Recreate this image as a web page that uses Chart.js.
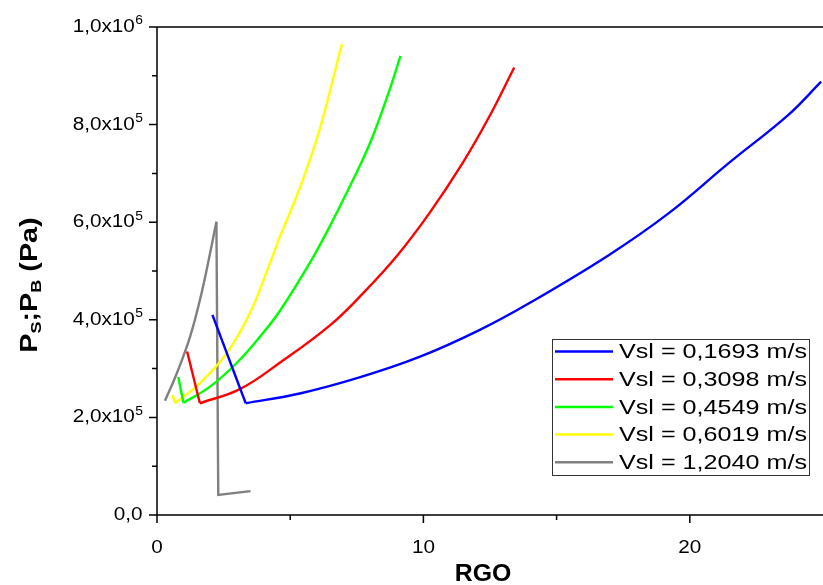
<!DOCTYPE html>
<html lang="pt">
<head>
<meta charset="utf-8">
<title>RGO x Pressão</title>
<script src="https://cdn.jsdelivr.net/npm/chart.js@4.4.1/dist/chart.umd.min.js"></script>
<style>
    body { margin: 0; background: #fff; }
    #rgoChart { display: block; }
</style>
</head>
<body>
<canvas id="rgoChart" width="823" height="585"></canvas>
<script>
// curve labels / colours (legend order)
const seriesLabels = ['Vsl = 0,1693 m/s', 'Vsl = 0,3098 m/s', 'Vsl = 0,4549 m/s', 'Vsl = 0,6019 m/s', 'Vsl = 1,2040 m/s'];
const seriesColors = ['#0000ff', '#ff0000', '#00ff00', '#ffff00', '#808080'];

// RGO values and pressure (Pa), one pair per curve
const rgo1693 = [2.08, 3.33, 5.36, 7.6, 9.85, 12.1, 14.0, 16.97, 19.2, 21.46, 23.7, 24.93];
const p1693 = [4.10e5, 2.29e5, 2.49e5, 2.82e5, 3.24e5, 3.79e5, 4.35e5, 5.33e5, 6.18e5, 7.21e5, 8.20e5, 8.88e5];

const rgo3098 = [1.13, 1.61, 3.11, 4.61, 6.48, 7.73, 8.98, 10.22, 11.47, 12.47, 13.41];
const p3098 = [3.35e5, 2.29e5, 2.58e5, 3.12e5, 3.88e5, 4.54e5, 5.29e5, 6.18e5, 7.21e5, 8.16e5, 9.17e5];

const rgo4549 = [0.80, 0.99, 1.99, 2.98, 3.86, 4.61, 5.73, 6.48, 6.98, 7.6, 8.1, 8.73, 9.14];
const p4549 = [2.83e5, 2.30e5, 2.63e5, 3.11e5, 3.65e5, 4.18e5, 5.16e5, 5.91e5, 6.45e5, 7.14e5, 7.76e5, 8.71e5, 9.41e5];

const rgo6019 = [0.59, 0.67, 1.61, 2.61, 3.48, 4.17, 4.61, 5.36, 6.10, 6.94];
const p6019 = [2.46e5, 2.29e5, 2.70e5, 3.31e5, 4.13e5, 5.06e5, 5.70e5, 6.70e5, 7.89e5, 9.65e5];

const rgo12040 = [0.30, 0.74, 1.24, 1.67, 1.99, 2.23, 2.30, 3.51];
const p12040 = [2.34e5, 2.90e5, 3.65e5, 4.54e5, 5.36e5, 6.01e5, 0.41e5, 0.49e5];

// index where each curve turns sharply (min for the first four, peak for the grey one)
const cornerIdx = [1, 1, 1, 1, 5];

// axis ticks
const xTicks = [0, 10, 20];
const xMinorTicks = [5, 15];
const xTickLabels = ['0', '10', '20'];
const yTicks = [0, 2e5, 4e5, 6e5, 8e5, 1e6];
const yMinorTicks = [1e5, 3e5, 5e5, 7e5, 9e5];
const yTickLabels = ['0,0', '2,0x10', '4,0x10', '6,0x10', '8,0x10', '1,0x10'];
const yTickExps = ['', '5', '5', '5', '5', '6'];

const FONT = '"Liberation Sans", Arial, sans-serif';

const xs = [rgo1693, rgo3098, rgo4549, rgo6019, rgo12040];
const ps = [p1693, p3098, p4549, p6019, p12040];

// each curve = a straight piece + a smooth piece, joined at the corner
const datasets = [];
seriesLabels.forEach((label, i) => {
    const pts = xs[i].map((v, k) => ({ x: v, y: ps[i][k] }));
    const c = cornerIdx[i];
    const grey = i === 4;
    const smooth = grey ? pts.slice(0, c + 1) : pts.slice(c);
    const straight = grey ? pts.slice(c) : pts.slice(0, c + 1);
    const base = {
        borderColor: seriesColors[i],
        backgroundColor: seriesColors[i],
        borderWidth: 2.4,
        pointRadius: 0,
        fill: false,
    };
    datasets.push({ ...base, label: label, data: smooth, tension: 0.4 });
    datasets.push({ ...base, label: label + ' (corner)', data: straight, tension: 0 });
});

// draw text stretched horizontally (origin exports look wide)
function wideText(ctx, text, x, y, align, sx) {
    const w = ctx.measureText(text).width * sx;
    let left = x;
    if (align === 'right') left = x - w;
    else if (align === 'center') left = x - w / 2;
    ctx.save();
    ctx.translate(left, y);
    ctx.scale(sx, 1);
    ctx.textAlign = 'left';
    ctx.fillText(text, 0, 0);
    ctx.restore();
    return w;
}

const axesPlugin = {
    id: 'originAxes',
    afterDraw(chart) {
        const { ctx, chartArea: a, scales } = chart;
        const sx = scales.x, sy = scales.y;
        ctx.save();
        ctx.strokeStyle = '#000';
        ctx.fillStyle = '#000';
        ctx.lineWidth = 1.5;

        // axis lines + top frame
        ctx.beginPath();
        ctx.moveTo(a.left, a.top);
        ctx.lineTo(a.left, a.bottom);
        ctx.lineTo(a.right, a.bottom);
        ctx.moveTo(a.left, a.top);
        ctx.lineTo(a.right, a.top);
        ctx.stroke();

        // ticks
        ctx.beginPath();
        xTicks.forEach(v => { const p = sx.getPixelForValue(v); ctx.moveTo(p, a.bottom); ctx.lineTo(p, a.bottom + 8); });
        xMinorTicks.forEach(v => { const p = sx.getPixelForValue(v); ctx.moveTo(p, a.bottom); ctx.lineTo(p, a.bottom + 5); });
        yTicks.forEach(v => { const p = sy.getPixelForValue(v); ctx.moveTo(a.left, p); ctx.lineTo(a.left - 8, p); });
        yMinorTicks.forEach(v => { const p = sy.getPixelForValue(v); ctx.moveTo(a.left, p); ctx.lineTo(a.left - 5, p); });
        ctx.stroke();

        // tick labels
        ctx.textBaseline = 'middle';
        ctx.font = '18px ' + FONT;
        xTicks.forEach((v, i) => wideText(ctx, xTickLabels[i], sx.getPixelForValue(v), a.bottom + 33, 'center', 1.15));

        yTicks.forEach((v, i) => {
            const p = sy.getPixelForValue(v);
            const right = a.left - 14;
            let supW = 0;
            if (yTickExps[i]) {
                ctx.font = '12px ' + FONT;
                supW = ctx.measureText(yTickExps[i]).width * 1.15;
                wideText(ctx, yTickExps[i], right, p - 6, 'right', 1.15);
            }
            ctx.font = '18px ' + FONT;
            wideText(ctx, yTickLabels[i], right - supW - 0.5, p, 'right', 1.15);
        });

        // x title
        ctx.font = 'bold 23px ' + FONT;
        wideText(ctx, 'RGO', (a.left + a.right) / 2 - 7, 575, 'center', 1.08);

        // y title with subscripts, rotated
        const parts = [['P', false], ['S', true], [';', false], ['P', false], ['B', true], [' (Pa)', false]];
        const big = 'bold 24px ' + FONT, small = 'bold 15px ' + FONT;
        const ts = 1.2;
        let total = 0;
        parts.forEach(([t, sub]) => { ctx.font = sub ? small : big; total += ctx.measureText(t).width * ts; });
        ctx.save();
        ctx.translate(30, 285);
        ctx.rotate(-Math.PI / 2);
        let cx = -total / 2;
        parts.forEach(([t, sub]) => {
            ctx.font = sub ? small : big;
            cx += wideText(ctx, t, cx, sub ? 7 : 0, 'left', ts);
        });
        ctx.restore();

        // legend box inside the plot
        const lx = 552.5, ly = 339.5, lw = 257, lh = 136;
        ctx.fillStyle = '#fff';
        ctx.fillRect(lx, ly, lw, lh);
        ctx.lineWidth = 1;
        ctx.strokeStyle = '#333';
        ctx.strokeRect(lx, ly, lw, lh);
        ctx.font = '21px ' + FONT;
        const stretch = 188 / ctx.measureText(seriesLabels[0]).width;
        seriesLabels.forEach((label, i) => {
            const ry = ly + 12 + i * 27.7;
            ctx.strokeStyle = seriesColors[i];
            ctx.lineWidth = 2.5;
            ctx.beginPath();
            ctx.moveTo(555, ry);
            ctx.lineTo(613, ry);
            ctx.stroke();
            ctx.fillStyle = '#000';
            wideText(ctx, label, 619, ry + 1, 'left', stretch);
        });
        ctx.restore();
    }
};

const ctx = document.getElementById('rgoChart').getContext('2d');
new Chart(ctx, {
    type: 'line',
    data: { datasets: datasets },
    options: {
        responsive: false,
        animation: false,
        devicePixelRatio: 1,
        layout: { padding: { left: 157, top: 27, right: 0, bottom: 70 } },
        scales: {
            x: { type: 'linear', min: 0, max: 25, display: false },
            y: { type: 'linear', min: 0, max: 1e6, display: false },
        },
        plugins: {
            legend: { display: false },
            tooltip: { enabled: false },
        },
    },
    plugins: [axesPlugin],
});
</script>
</body>
</html>
